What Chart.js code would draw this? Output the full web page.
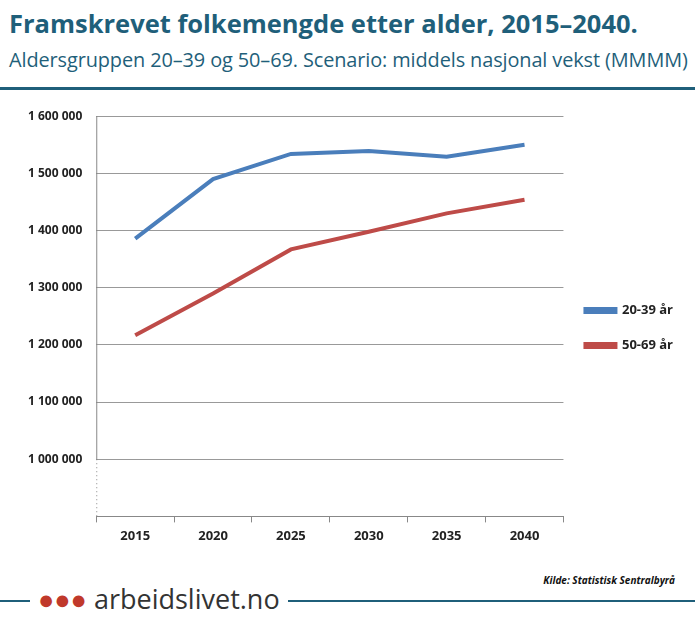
<!DOCTYPE html>
<html>
<head>
<meta charset="utf-8">
<script src="https://cdn.jsdelivr.net/npm/chart.js@4"></script>
<style>
  body { margin: 0; width: 695px; height: 625px; background: #fff; font-family: "Open Sans", sans-serif; position: relative; overflow: hidden; }
  #title { position: absolute; left: 9px; top: 6px; font-size: 25.5px; font-weight: bold; color: #1f5f7a; }
  #sub { position: absolute; left: 9px; top: 46px; font-size: 19.9px; color: #1f5f7a; letter-spacing: -0.1px; }
  #topline { position: absolute; left: 0; top: 87px; width: 695px; height: 3px; background: #1f5f7a; }
  #wrap { position: absolute; left: 0; top: 95px; width: 695px; height: 455px; }
  #kilde { position: absolute; right: 20px; top: 573px; font-size: 10px; font-style: italic; font-weight: bold; color: #111; }
  #foot { position: absolute; left: 0; top: 600px; width: 695px; height: 2px; background: #1f5f7a; }
  #logo { position: absolute; left: 30px; top: 580px; padding: 0 8px; background: #fff; font-size: 27px; color: #333; font-family: "Open Sans", sans-serif; }
  #logo span { color: #c0392b; }
</style>
</head>
<body>
<div id="title">Framskrevet folkemengde etter alder, 2015–2040.</div>
<div id="sub">Aldersgruppen 20–39 og 50–69. Scenario: middels nasjonal vekst (MMMM)</div>
<div id="topline"></div>
<div id="wrap"><canvas id="c"></canvas></div>
<div id="kilde">Kilde: Statistisk Sentralbyrå</div>
<div id="foot"></div>
<div id="logo"><span>●●●</span> arbeidslivet.no</div>
<script>
const years = ['2015', '2020', '2025', '2030', '2035', '2040'];
const age2039 = [1386000, 1490000, 1534000, 1539000, 1529000, 1550000];
const age5069 = [1217000, 1290000, 1367000, 1398000, 1430000, 1454000];

const fmt = v => String(v).replace(/\B(?=(\d{3})+(?!\d))/g, ' ');

const axisLine = {
    id: 'axisLine',
    afterDraw(chart) {
        const ctx = chart.ctx, y = chart.scales.y, x = chart.scales.x;
        const px = x.left, yBreak = y.getPixelForValue(1000000);
        ctx.save();
        ctx.strokeStyle = '#888';
        ctx.lineWidth = 1;
        ctx.beginPath(); ctx.moveTo(px + 0.5, y.top); ctx.lineTo(px + 0.5, yBreak); ctx.stroke();
        ctx.setLineDash([1, 3]);
        ctx.beginPath(); ctx.moveTo(px + 0.5, yBreak); ctx.lineTo(px + 0.5, y.bottom); ctx.stroke();
        ctx.restore();
    }
};

new Chart(document.getElementById('c'), {
    type: 'line',
    data: {
        labels: years,
        datasets: [
            { label: '20-39 år', data: age2039, borderColor: '#4a7ebb', backgroundColor: '#4a7ebb', borderWidth: 4, pointRadius: 0, tension: 0 },
            { label: '50-69 år', data: age5069, borderColor: '#be4b48', backgroundColor: '#be4b48', borderWidth: 4, pointRadius: 0, tension: 0 }
        ]
    },
    options: {
        responsive: true,
        maintainAspectRatio: false,
        animation: false,
        layout: { padding: { left: 14, right: 12, top: 11, bottom: 0 } },
        plugins: {
            legend: {
                position: 'right',
                labels: { boxWidth: 30, boxHeight: 3, padding: 22, font: { family: 'Open Sans', size: 13, weight: 'bold' }, color: '#222' }
            },
            tooltip: { enabled: false }
        },
        scales: {
            x: {
                offset: true,
                grid: { offset: true, drawOnChartArea: false, tickLength: 6, color: '#888' },
                border: { color: '#888' },
                ticks: { font: { family: 'Open Sans', size: 13, weight: 'bold' }, color: '#222', padding: 6 }
            },
            y: {
                min: 900000, max: 1600000,
                afterBuildTicks: s => { s.ticks = s.ticks.filter(t => t.value >= 1000000); },
                grid: { color: '#999', drawTicks: false },
                border: { display: false },
                ticks: { stepSize: 100000, callback: v => fmt(v), font: { family: 'Open Sans', size: 12, weight: 'bold' }, color: '#222', padding: 14 }
            }
        }
    },
    plugins: [axisLine]
});
</script>
</body>
</html>
